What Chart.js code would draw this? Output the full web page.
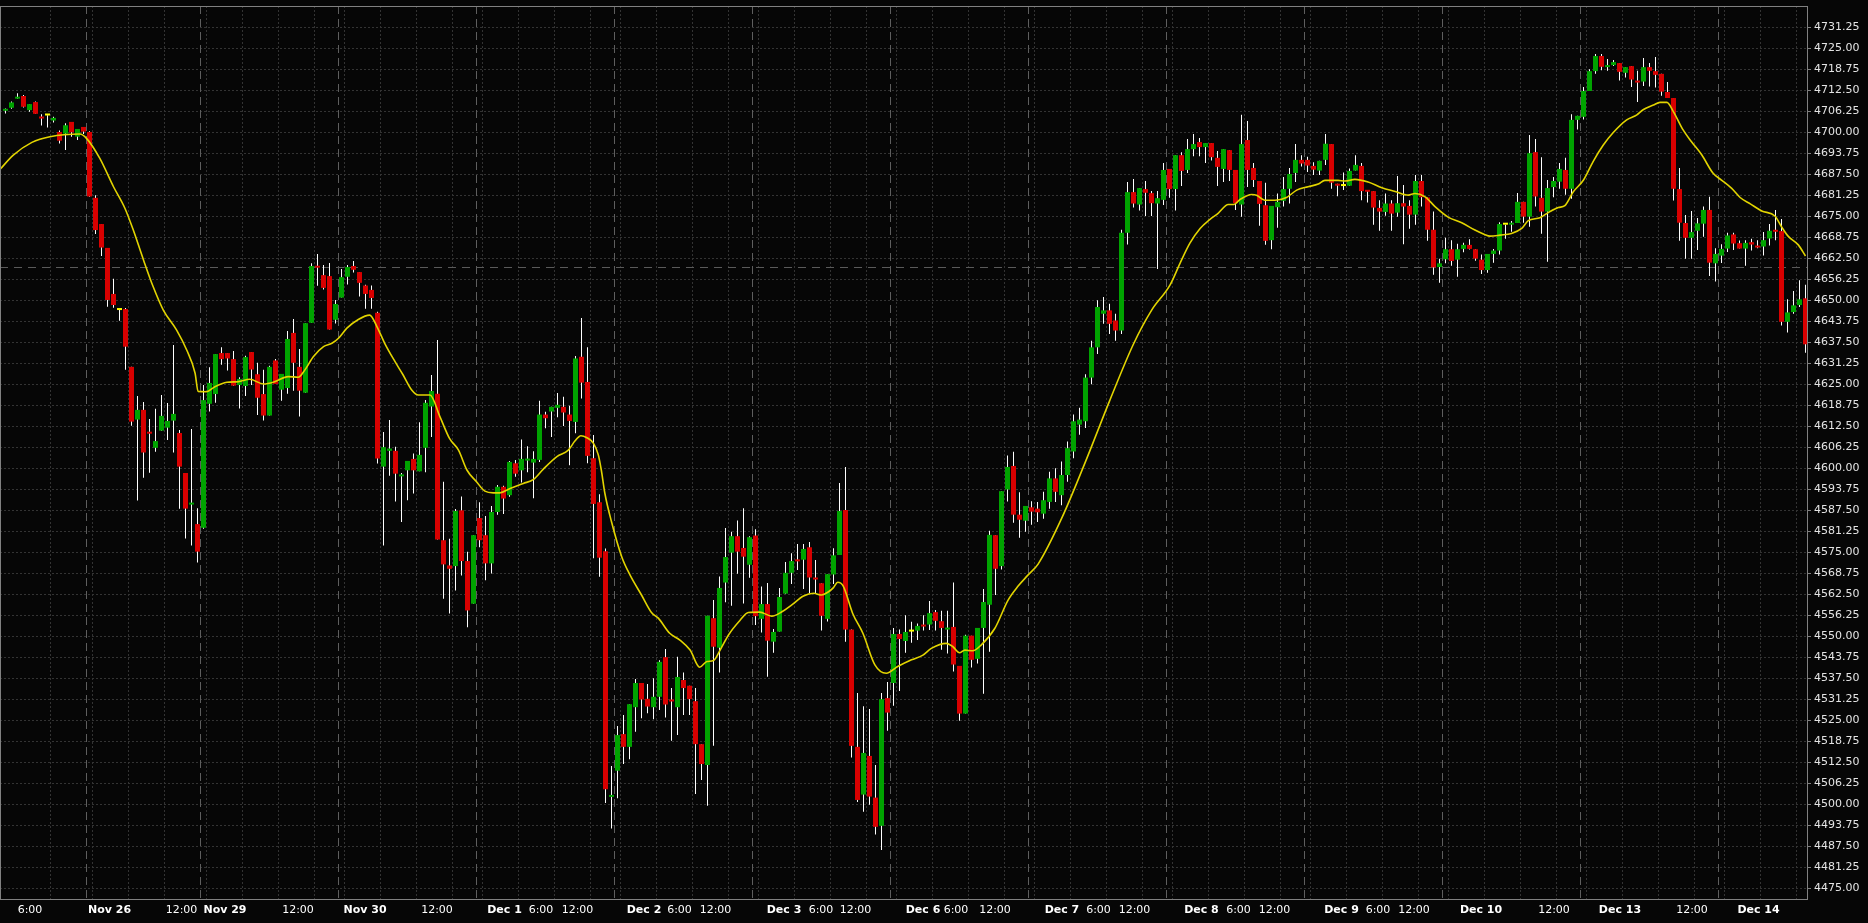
<!DOCTYPE html>
<html><head><meta charset="utf-8">
<script src="https://cdn.jsdelivr.net/npm/chart.js@4.4.0/dist/chart.umd.min.js"></script>
<style>html,body{margin:0;padding:0;background:#060606;overflow:hidden}#wrap{width:1868px;height:923px}</style>
</head><body><div id="wrap"><canvas id="c" width="1868" height="923"></canvas></div>
<script>
// ---- hourly candles (index 0..300) ----
const opens = [
4706.4,4707.3,4710.0,4710.8,4706.6,4709.0,4704.5,4705.0,4703.5,4700.1,
4699.6,4703.1,4698.7,4701.6,4700.1,4680.5,4672.7,4665.6,4651.9,4647.1,
4647.4,4630.2,4614.5,4617.4,4610.9,4606.1,4611.2,4612.1,4614.2,4610.5,
4598.6,4589.2,4583.4,4582.3,4619.2,4622.1,4634.3,4634.3,4632.5,4624.8,
4624.5,4634.6,4628.0,4622.1,4615.7,4632.1,4623.4,4623.9,4640.3,4630.2,
4622.5,4643.3,4660.2,4657.5,4657.2,4644.2,4650.8,4657.0,4660.2,4658.4,
4654.4,4653.1,4646.3,4600.5,4605.2,4605.2,4597.6,4599.4,4602.8,4599.1,
4606.1,4618.4,4622.2,4578.6,4571.1,4570.9,4587.5,4572.4,4559.7,4585.2,
4580.1,4571.7,4587.0,4594.5,4592.0,4601.5,4599.4,4602.3,4601.7,4602.5,
4616.0,4616.9,4618.0,4618.3,4616.0,4613.8,4633.2,4625.7,4603.0,4589.9,
4575.3,4502.2,4510.0,4520.9,4517.1,4528.9,4536.1,4531.4,4528.9,4532.0,
4543.8,4531.1,4528.9,4537.0,4535.3,4530.7,4517.9,4511.7,4555.4,4546.6,
4566.0,4574.9,4579.8,4576.3,4571.3,4580.0,4555.2,4559.6,4548.4,4551.4,
4562.7,4568.9,4572.8,4572.8,4576.5,4567.5,4565.8,4555.2,4568.4,4574.2,
4587.6,4552.0,4517.1,4502.9,4514.4,4502.0,4493.6,4531.6,4536.1,4550.7,
4548.6,4551.4,4551.7,4553.3,4553.5,4557.2,4554.5,4552.0,4552.8,4541.2,
4527.0,4550.2,4543.3,4552.5,4559.4,4580.1,4570.9,4593.7,4600.7,4586.2,
4584.4,4588.4,4588.0,4586.5,4590.0,4597.0,4592.0,4598.0,4605.0,4613.0,
4614.0,4627.0,4636.0,4646.0,4647.0,4644.0,4641.0,4670.1,4682.2,4678.5,
4683.1,4681.9,4678.8,4679.9,4689.1,4683.1,4693.2,4688.8,4695.0,4697.1,
4695.6,4696.8,4692.4,4689.1,4694.7,4688.8,4678.5,4697.7,4689.4,4685.5,
4678.3,4667.9,4677.7,4679.6,4683.2,4687.9,4691.8,4691.8,4690.0,4688.6,
4691.8,4696.5,4684.7,4684.0,4684.1,4688.6,4690.0,4682.8,4682.5,4677.5,
4676.3,4678.8,4676.1,4678.9,4678.1,4675.5,4685.5,4680.6,4671.0,4659.9,
4662.2,4665.2,4662.1,4665.3,4666.5,4665.2,4662.1,4659.0,4663.8,4664.8,
4672.5,4672.5,4673.0,4679.3,4674.9,4694.1,4680.5,4676.4,4683.7,4685.3,
4688.8,4683.2,4703.7,4704.6,4712.3,4718.2,4722.7,4719.4,4720.0,4720.6,
4717.7,4719.7,4715.4,4715.1,4719.4,4718.2,4717.4,4712.0,4710.2,4683.1,
4673.0,4668.6,4670.7,4672.8,4676.9,4661.0,4663.3,4665.4,4669.6,4667.0,
4665.4,4667.3,4666.2,4666.0,4668.4,4670.9,4670.6,4643.6,4646.5,4648.6,
4650.6];
const highs = [
4707.1,4709.2,4711.6,4711.1,4708.4,4709.2,4705.4,4705.1,4704.6,4700.5,
4702.7,4703.1,4701.0,4701.6,4700.3,4681.3,4672.7,4665.6,4656.4,4647.2,
4647.7,4630.2,4621.5,4619.7,4614.7,4617.7,4621.8,4619.4,4636.7,4611.4,
4598.6,4611.7,4588.1,4624.8,4630.1,4634.0,4636.0,4634.3,4634.9,4627.1,
4633.5,4634.6,4631.4,4629.3,4630.5,4632.5,4628.1,4640.9,4644.4,4635.5,
4643.2,4661.0,4663.8,4660.5,4661.1,4650.1,4659.3,4660.5,4661.7,4658.4,
4654.6,4654.4,4646.6,4610.8,4614.4,4606.4,4598.6,4602.2,4604.4,4613.7,
4620.3,4627.8,4638.2,4596.0,4579.0,4587.9,4591.6,4575.2,4580.1,4589.9,
4585.8,4588.8,4595.0,4594.8,4602.2,4602.5,4608.6,4606.6,4605.1,4620.1,
4616.8,4618.3,4622.4,4621.3,4618.6,4633.4,4644.7,4636.0,4609.9,4592.3,
4576.1,4511.4,4523.3,4526.6,4529.8,4537.3,4536.1,4535.8,4537.5,4542.9,
4546.2,4534.6,4543.9,4539.2,4535.3,4534.6,4517.9,4556.1,4560.8,4567.8,
4582.2,4581.1,4584.5,4588.1,4579.8,4581.9,4564.8,4565.9,4552.2,4564.4,
4572.1,4574.7,4577.5,4577.5,4578.1,4572.7,4565.8,4568.5,4576.2,4595.6,
4600.4,4552.0,4533.1,4529.2,4528.4,4511.7,4533.1,4536.4,4552.5,4552.0,
4556.3,4554.3,4553.8,4556.3,4560.5,4557.8,4557.6,4557.6,4566.0,4541.2,
4550.5,4550.2,4552.5,4564.1,4581.4,4580.1,4593.2,4603.8,4604.9,4592.9,
4588.8,4590.2,4590.0,4593.0,4599.0,4600.0,4602.0,4608.0,4616.0,4618.0,
4628.0,4638.0,4650.0,4651.0,4649.0,4646.0,4671.0,4685.2,4686.1,4683.4,
4685.5,4682.5,4682.5,4690.9,4689.1,4693.2,4694.1,4698.0,4699.5,4698.3,
4696.8,4696.8,4694.4,4695.0,4694.7,4688.8,4705.2,4703.4,4690.9,4685.5,
4685.0,4678.1,4681.8,4686.7,4689.4,4696.5,4693.2,4692.7,4691.1,4691.5,
4699.5,4696.5,4684.7,4688.0,4689.2,4693.2,4690.9,4682.8,4682.5,4679.8,
4681.8,4679.8,4687.0,4684.3,4679.8,4687.3,4687.3,4680.6,4676.4,4662.4,
4668.6,4667.9,4666.8,4667.1,4668.2,4665.2,4663.6,4663.8,4665.3,4673.2,
4672.5,4673.6,4681.9,4679.3,4699.2,4698.0,4692.6,4685.8,4686.7,4690.9,
4692.4,4705.4,4704.9,4713.5,4718.8,4723.3,4723.3,4721.8,4721.5,4720.6,
4719.4,4719.7,4718.3,4722.1,4720.6,4722.4,4717.4,4715.0,4710.2,4689.4,
4675.4,4676.6,4674.5,4677.9,4680.8,4665.5,4666.7,4670.1,4670.1,4667.8,
4667.9,4668.3,4667.9,4670.3,4672.7,4676.9,4674.2,4650.3,4652.8,4656.0,
4654.6];
const lows = [
4705.6,4707.0,4710.0,4707.4,4706.1,4705.5,4702.0,4701.4,4702.9,4696.7,
4694.7,4698.7,4697.7,4699.5,4680.8,4669.7,4663.2,4648.1,4647.8,4643.9,
4629.3,4612.7,4590.4,4597.2,4598.7,4604.9,4611.2,4608.4,4604.7,4588.0,
4579.1,4577.0,4572.0,4582.0,4616.9,4619.5,4630.8,4629.1,4624.6,4617.8,
4621.5,4624.8,4615.9,4614.2,4615.7,4625.1,4620.1,4622.2,4623.1,4615.4,
4622.5,4643.3,4654.3,4653.2,4641.3,4643.1,4650.8,4654.7,4658.3,4651.1,
4647.5,4647.5,4601.4,4577.0,4597.8,4590.1,4584.0,4590.5,4592.5,4599.1,
4598.8,4609.3,4578.8,4561.2,4556.8,4563.6,4568.1,4552.7,4559.7,4576.5,
4566.7,4568.7,4586.2,4586.4,4591.5,4597.5,4595.8,4598.8,4591.1,4601.9,
4611.9,4609.3,4615.2,4612.6,4600.9,4610.4,4620.8,4601.5,4573.2,4567.7,
4500.4,4492.8,4501.8,4512.0,4513.4,4521.6,4525.6,4527.1,4525.3,4528.1,
4525.8,4518.9,4520.6,4526.6,4526.6,4503.1,4507.2,4499.6,4517.4,4539.2,
4560.1,4559.1,4568.6,4559.8,4567.4,4553.4,4551.1,4538.0,4545.1,4551.4,
4562.7,4565.6,4569.7,4564.1,4562.8,4562.8,4551.7,4554.4,4565.6,4574.2,
4548.4,4513.9,4500.7,4497.8,4499.9,4491.0,4486.4,4521.9,4529.3,4533.7,
4545.1,4548.1,4548.9,4551.7,4551.9,4551.7,4546.0,4544.9,4539.5,4524.9,
4527.0,4540.7,4541.9,4532.9,4545.4,4562.3,4569.9,4590.1,4583.8,4579.3,
4581.1,4583.2,4584.0,4585.0,4588.0,4590.0,4589.0,4596.0,4603.0,4610.0,
4612.0,4625.0,4634.0,4643.0,4640.0,4638.0,4640.0,4666.6,4677.6,4676.7,
4675.1,4675.1,4659.3,4678.4,4680.5,4676.7,4684.0,4687.9,4692.9,4692.9,
4690.9,4691.6,4684.0,4685.2,4685.5,4676.9,4674.9,4683.7,4683.7,4672.2,
4666.5,4665.2,4671.6,4677.9,4678.8,4685.2,4689.8,4688.2,4687.3,4687.3,
4690.3,4683.2,4681.0,4682.8,4684.1,4688.6,4679.8,4679.1,4672.5,4670.7,
4675.2,4670.7,4674.9,4666.7,4671.3,4672.5,4677.9,4667.7,4657.6,4655.2,
4661.0,4660.3,4657.0,4664.3,4665.1,4661.8,4657.8,4658.2,4661.2,4663.6,
4668.3,4670.4,4673.0,4673.1,4671.9,4677.9,4669.8,4661.5,4680.7,4683.2,
4681.4,4680.2,4700.8,4703.8,4712.3,4717.4,4718.5,4718.3,4719.7,4715.4,
4716.3,4713.5,4709.0,4713.8,4713.6,4713.3,4710.9,4710.2,4679.7,4667.7,
4662.4,4662.4,4665.0,4668.9,4657.2,4655.6,4661.1,4664.4,4665.0,4665.4,
4660.3,4664.8,4665.5,4663.3,4666.3,4667.9,4642.5,4640.4,4646.0,4648.0,
4634.4];
const closes = [
4706.8,4708.9,4710.5,4707.6,4708.4,4705.5,4704.1,4705.0,4704.3,4697.5,
4702.1,4700.0,4701.0,4700.2,4680.9,4670.9,4665.7,4650.1,4648.6,4647.1,
4636.2,4613.9,4617.4,4604.7,4610.3,4608.1,4615.6,4614.1,4616.2,4600.5,
4588.0,4589.7,4575.2,4620.3,4625.4,4634.0,4632.5,4632.7,4624.6,4626.6,
4633.1,4629.4,4621.0,4615.7,4630.2,4625.1,4628.1,4638.5,4631.4,4623.1,
4643.2,4660.2,4659.7,4653.7,4641.3,4648.9,4656.9,4659.9,4659.1,4655.2,
4651.9,4650.7,4602.9,4606.3,4605.9,4598.4,4598.2,4602.2,4599.4,4604.0,
4619.5,4623.0,4578.8,4571.4,4570.1,4587.3,4572.4,4557.7,4580.1,4578.6,
4571.7,4587.0,4594.5,4591.0,4601.9,4598.4,4602.8,4602.8,4602.8,4616.0,
4614.9,4618.3,4618.9,4616.6,4614.1,4632.7,4625.5,4603.7,4589.4,4573.4,
4504.5,4502.7,4520.6,4517.1,4529.8,4536.1,4531.2,4529.1,4532.0,4542.4,
4529.7,4530.6,4537.9,4534.6,4531.3,4517.9,4512.0,4556.1,4546.9,4564.4,
4573.6,4579.8,4575.2,4573.7,4579.5,4556.0,4559.6,4548.7,4551.3,4561.7,
4568.9,4572.4,4572.3,4576.0,4567.5,4566.9,4556.1,4568.5,4574.1,4587.3,
4552.0,4517.4,4501.3,4515.3,4502.3,4493.3,4531.3,4527.3,4550.7,4549.2,
4551.3,4551.4,4553.1,4552.9,4556.9,4554.6,4552.5,4552.5,4541.6,4527.0,
4550.2,4543.0,4552.5,4560.2,4580.2,4570.1,4593.2,4600.4,4586.2,4584.7,
4588.8,4587.1,4586.9,4590.5,4597.0,4593.0,4598.0,4606.0,4614.0,4614.5,
4627.0,4636.0,4648.0,4647.0,4643.0,4641.0,4670.1,4682.2,4678.8,4683.4,
4682.0,4678.9,4680.4,4688.8,4683.1,4693.2,4688.5,4695.0,4696.5,4695.6,
4696.8,4692.6,4689.7,4695.0,4688.8,4678.9,4696.5,4688.8,4685.8,4678.7,
4667.7,4678.1,4679.3,4683.1,4687.6,4691.8,4690.7,4690.1,4688.9,4691.5,
4696.6,4685.0,4684.1,4684.0,4688.5,4690.3,4682.5,4682.3,4677.6,4676.4,
4678.8,4675.8,4678.9,4677.9,4675.5,4685.5,4680.7,4671.0,4659.8,4661.0,
4665.2,4661.7,4665.2,4666.5,4665.3,4662.4,4659.0,4663.8,4664.8,4672.7,
4672.5,4673.0,4679.3,4674.9,4693.8,4680.9,4676.4,4683.4,4685.5,4689.1,
4683.2,4703.7,4704.9,4712.3,4718.2,4722.7,4719.5,4720.0,4720.9,4718.0,
4719.4,4715.7,4714.8,4719.4,4718.3,4717.1,4712.1,4710.2,4683.2,4673.1,
4668.6,4670.3,4672.9,4676.9,4661.2,4663.8,4665.3,4669.3,4666.9,4665.4,
4667.1,4666.6,4665.7,4667.9,4670.7,4670.4,4643.6,4646.4,4648.5,4650.3,
4636.9];

// ---- moving average line (x = candle index) ----
const maX = [-0.9,1.3,4.4,7.4,12.4,13.5,15.7,18.0,19.9,21.3,23.0,24.6,26.3,28.5,30.2,31.6,32.1,33.5,34.9,36.9,38.8,40.7,43.0,44.9,47.1,48.8,49.9,51.3,53.0,54.4,55.5,56.9,58.8,60.7,61.9,63.2,64.9,66.2,67.7,68.8,70.75,72.4,74.0,75.5,76.9,78.5,79.9,81.3,82.4,84.1,86.3,88.0,89.6,91.9,93.8,94.9,95.9,96.9,98.0,98.8,99.3,99.9,101.0,102.7,104.1,106.0,107.7,108.8,110.7,112.4,114.1,115.7,116.9,118.0,119.1,120.5,122.4,123.8,125.7,127.7,129.4,131.0,133.0,134.7,136.0,137.1,138.0,138.7,139.6,141.2,142.9,144.9,146.8,148.7,151.0,152.9,154.3,156.8,157.9,159.0,159.9,161.2,162.6,164.9,167.1,168.7,170.4,172.1,176,180,184,188,191,194.1,195.75,197.4,199.1,200.75,202.1,203.8,204.75,205.75,207.7,208.5,209.9,211.6,213.5,215.2,217.1,218.8,219.9,222.1,223.25,224.9,227.1,229.4,231.6,233.8,234.9,236.6,238.25,240.5,242.7,244.9,246.5,247.4,249.1,251.0,252.7,253.8,255.75,257.4,258.8,259.9,261.3,263.0,264.6,266.3,268.0,270.2,271.9,273.0,274.65,275.75,276.9,278.0,279.6,281.0,282.7,284.6,286.0,287.7,289.1,290.8,292.7,294.9,296.0,297.1,298.8,300.0];
const maY = [4689.0,4693.2,4697.0,4698.7,4699.5,4698.2,4692.3,4683.8,4677.4,4670.9,4662.0,4654.1,4647.1,4641.2,4635.2,4628.3,4622.9,4622.8,4624.3,4625.6,4625.8,4626.5,4625.1,4625.8,4627.3,4627.1,4629.3,4633.2,4636.2,4637.2,4638.7,4641.7,4644.3,4645.6,4642.2,4637.2,4631.8,4628.0,4623.3,4621.8,4621.8,4615.4,4608.9,4605.4,4599.5,4596.0,4593.2,4592.7,4592.7,4594.0,4595.5,4596.7,4599.7,4603.5,4605.4,4608.1,4609.7,4609.1,4607.4,4604.0,4599.5,4592.5,4584.1,4573.7,4568.2,4562.3,4557.0,4555.4,4550.9,4548.9,4545.9,4540.8,4542.5,4542.8,4545.9,4550.4,4554.7,4557.1,4557.2,4556.0,4557.3,4559.3,4562.0,4562.8,4562.3,4563.2,4564.5,4566.1,4565.0,4556.8,4550.9,4541.5,4539.0,4541.0,4543.0,4544.4,4546.4,4547.9,4546.9,4545.1,4545.9,4545.7,4547.4,4552.4,4560.8,4564.8,4568.2,4571.5,4585,4602,4620,4637,4647,4654.6,4661.0,4667.0,4671.4,4674.1,4675.9,4678.5,4678.5,4680.0,4681.5,4681.3,4679.8,4679.8,4680.6,4682.8,4683.8,4684.6,4685.7,4685.7,4685.5,4686.0,4685.2,4683.5,4682.4,4681.3,4681.8,4680.8,4677.9,4674.7,4673.1,4670.9,4669.6,4669.1,4669.4,4669.9,4671.4,4673.7,4674.6,4676.4,4677.6,4678.2,4682.3,4685.8,4691.3,4696.2,4700.0,4703.7,4705.2,4706.8,4708.1,4708.9,4708.9,4706.1,4700.7,4697.2,4693.3,4687.8,4685.8,4683.3,4680.6,4678.7,4676.6,4675.1,4671.9,4669.1,4666.5,4663.2];

// ---- axes ----
const yTickValues = [4475.00,4481.25,4487.50,4493.75,4500.00,4506.25,4512.50,4518.75,4525.00,4531.25,4537.50,4543.75,4550.00,4556.25,4562.50,4568.75,4575.00,4581.25,4587.50,4593.75,4600.00,4606.25,4612.50,4618.75,4625.00,4631.25,4637.50,4643.75,4650.00,4656.25,4662.50,4668.75,4675.00,4681.25,4687.50,4693.75,4700.00,4706.25,4712.50,4718.75,4725.00,4731.25];
const xLabelText = ['6:00','Nov 26','12:00','Nov 29','12:00','Nov 30','12:00','Dec 1','6:00','12:00','Dec 2','6:00','12:00','Dec 3','6:00','12:00','Dec 6','6:00','12:00','Dec 7','6:00','12:00','Dec 8','6:00','12:00','Dec 9','6:00','12:00','Dec 10','12:00','Dec 13','12:00','Dec 14'];
const xLabelPos = [4.08,17.35,29.33,36.58,48.75,59.92,71.92,83.17,89.25,95.33,106.42,112.33,118.33,129.75,135.92,141.67,152.92,158.42,164.92,176.08,182.17,188.17,199.33,205.5,211.5,222.67,228.75,234.75,245.92,258.08,269.08,281.08,292.17];
const dayBoundaries = [13.5,32.5,55.5,78.5,101.5,124.5,147.5,170.5,193.5,216.5,239.5,262.5,285.5];
const timeGrid = [7.5,14.5,20.5,26.5,33.5,39.5,45.5,51.5,56.5,62.5,68.5,74.5,79.5,85.5,91.5,97.5,102.5,108.5,114.5,120.5,125.5,131.5,137.5,143.5,148.5,154.5,160.5,166.5,171.5,177.5,183.5,189.5,194.5,200.5,206.5,212.5,217.5,223.5,229.5,235.5,240.5,246.5,252.5,258.5,263.5,269.5,275.5,281.5,286.5,292.5,298.5];
const refLine = 4659.75;

const GREEN = '#00a300', RED = '#d80000', DOJI = '#ffff00';
const idx = closes.map((_, i) => i);
const bodyColors = idx.map(i => closes[i] > opens[i] ? GREEN : (closes[i] < opens[i] ? RED : DOJI));

const gridPlugin = {
  id: 'gridPlugin',
  beforeDraw(chart) {
    const c = chart.ctx;
    c.save(); c.fillStyle = '#060606'; c.fillRect(0, 0, chart.width, chart.height); c.restore();
  },
  beforeDatasetsDraw(chart) {
    const c = chart.ctx, a = chart.chartArea, xs = chart.scales.x, ys = chart.scales.y;
    c.save();
    c.lineWidth = 1;
    c.strokeStyle = '#333333';
    c.setLineDash([2, 2]);
    yTickValues.forEach(v => {
      const p = Math.floor(ys.getPixelForValue(v)) + 0.5;
      c.beginPath(); c.moveTo(a.left, p); c.lineTo(a.right, p); c.stroke();
    });
    timeGrid.forEach(v => {
      const p = Math.floor(xs.getPixelForValue(v)) + 0.5;
      c.beginPath(); c.moveTo(p, a.top); c.lineTo(p, a.bottom); c.stroke();
    });
    c.strokeStyle = '#5e5e5e';
    c.setLineDash([8, 5]);
    dayBoundaries.forEach(v => {
      const p = Math.floor(xs.getPixelForValue(v)) + 0.5;
      c.beginPath(); c.moveTo(p, a.top); c.lineTo(p, a.bottom); c.stroke();
    });
    const r = Math.floor(ys.getPixelForValue(refLine)) + 0.5;
    c.strokeStyle = '#5a5a5a';
    c.setLineDash([8, 6]);
    c.beginPath(); c.moveTo(a.left, r); c.lineTo(a.right, r); c.stroke();
    c.restore();
  },
  afterDraw(chart) {
    const c = chart.ctx, a = chart.chartArea;
    c.save();
    c.strokeStyle = '#808080'; c.lineWidth = 1; c.setLineDash([]);
    c.strokeRect(a.left + 0.5, a.top + 0.5, a.right - a.left - 1, a.bottom - a.top);
    c.beginPath();
    yTickValues.forEach(v => {
      const p = Math.floor(chart.scales.y.getPixelForValue(v)) + 0.5;
      c.moveTo(a.right, p); c.lineTo(a.right + 3, p);
    });
    c.stroke();
    c.restore();
  }
};

new Chart(document.getElementById('c'), {
  type: 'bar',
  data: {
    datasets: [
      {
        type: 'line', label: 'MA', order: 0,
        data: maX.map((x, k) => ({ x: x, y: maY[k] })),
        borderColor: '#e2d400', borderWidth: 1.6, pointRadius: 0,
        cubicInterpolationMode: 'monotone', fill: false
      },
      {
        label: 'body', order: 1,
        data: idx.map(i => ({ x: i, y: [opens[i], closes[i]] })),
        backgroundColor: bodyColors, borderWidth: 0,
        barThickness: 5, grouped: false, minBarLength: 2, inflateAmount: 0
      },
      {
        label: 'wick', order: 2,
        data: idx.map(i => ({ x: i, y: [lows[i], highs[i]] })),
        backgroundColor: '#ffffff', borderWidth: 0,
        barThickness: 1, grouped: false, inflateAmount: 0
      }
    ]
  },
  options: {
    responsive: false, animation: false, devicePixelRatio: 1,
    layout: { padding: { top: 6, left: 0, right: 0, bottom: 0 } },
    plugins: { legend: { display: false }, tooltip: { enabled: false } },
    scales: {
      x: {
        type: 'linear', position: 'bottom', min: -0.9167, max: 300.4167, offset: false,
        grid: { display: false, drawTicks: false, offset: false }, border: { display: false },
        afterBuildTicks: s => { s.ticks = xLabelPos.map(v => ({ value: v })); },
        afterFit: s => { s.height = 24; s.paddingLeft = 0; s.paddingRight = 0; },
        ticks: {
          autoSkip: false, maxRotation: 0, minRotation: 0, padding: 5, color: '#ffffff',
          font: ctx => ({ family: 'DejaVu Sans', size: 11,
            weight: /^(Nov|Dec)/.test(xLabelText[ctx.index] || '') ? 'bold' : 'normal' }),
          callback: (v, i) => xLabelText[i]
        }
      },
      y: {
        type: 'linear', position: 'right', min: 4471.82, max: 4737.59,
        grid: { display: false, drawTicks: false }, border: { display: false },
        afterBuildTicks: s => { s.ticks = yTickValues.map(v => ({ value: v })); },
        afterFit: s => { s.width = 60; s.paddingTop = 0; s.paddingBottom = 0; },
        ticks: {
          padding: 6, color: '#e4e4e4', font: { family: 'DejaVu Sans', size: 11 },
          callback: v => Number(v).toFixed(2)
        }
      }
    }
  },
  plugins: [gridPlugin]
});
</script>
</body></html>
